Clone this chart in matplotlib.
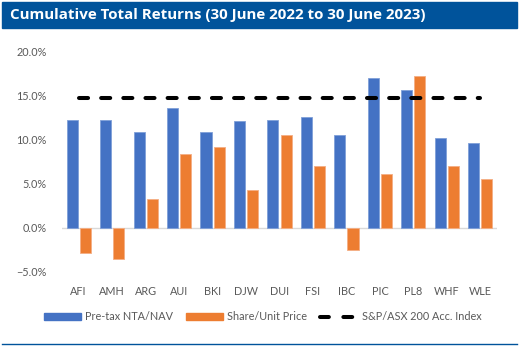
import matplotlib.pyplot as plt
import numpy as np
from matplotlib.patches import Rectangle
from matplotlib.lines import Line2D
from matplotlib.ticker import PercentFormatter

# values (%)
tickers = ['AFI', 'AMH', 'ARG', 'AUI', 'BKI', 'DJW', 'DUI', 'FSI', 'IBC', 'PIC', 'PL8', 'WHF', 'WLE']
nta = [12.3, 12.25, 10.9, 13.6, 10.9, 12.15, 12.2, 12.6, 10.5, 17.0, 15.6, 10.2, 9.6]
share = [-2.8, -3.5, 3.3, 8.4, 9.2, 4.3, 10.5, 7.0, -2.45, 6.15, 17.25, 7.0, 5.5]
index_ret = [14.8] * len(tickers)

title = 'Cumulative Total Returns (30 June 2022 to 30 June 2023)'
blue = '#4472C4'
orange = '#ED7D31'
navy = '#00539B'
grey = '#595959'

plt.rcParams['font.family'] = ['Lato', 'DejaVu Sans']

fig = plt.figure(figsize=(5.2, 3.48), dpi=100)
ax = fig.add_axes([0.119, 0.2184, 0.837, 0.6330])

x = np.arange(len(tickers))
w = 0.33
ax.bar(x - w / 2 - 0.03, nta, width=w, color=blue, edgecolor='#7f9fd8', linewidth=0.6, zorder=2)
ax.bar(x + w / 2 + 0.03, share, width=w, color=orange, edgecolor='#f4ae84', linewidth=0.6, zorder=2)
ax.plot(x, index_ret, color='black', linewidth=2.9, dashes=(2.25, 3.25),
        dash_capstyle='round', zorder=3)

ax.set_xlim(-0.5, len(tickers) - 0.5)
ax.set_ylim(-5, 20)
ax.set_yticks([-5, 0, 5, 10, 15, 20])
ax.yaxis.set_major_formatter(PercentFormatter(decimals=1))
ax.set_xticks(x)
ax.set_xticklabels(tickers)
ax.axhline(0, color='#d9d9d9', linewidth=1, zorder=1)
for s in ax.spines.values():
    s.set_visible(False)
ax.tick_params(axis='both', length=0, labelsize=7.8, colors=grey)
ax.tick_params(axis='x', pad=10)
ax.tick_params(axis='y', pad=11)

# title band and bottom rule
fig.add_artist(Rectangle((2 / 520, 1 - 28 / 348), 515 / 520, 26 / 348,
                         transform=fig.transFigure, color=navy, zorder=0))
fig.text(10 / 520, 1 - 15.5 / 348, title, color='white', fontsize=10.9,
         fontweight='bold', family=['Open Sans', 'DejaVu Sans'], va='center', ha='left')
fig.add_artist(Line2D([2 / 520, 517 / 520], [1 - 344 / 348] * 2, transform=fig.transFigure,
                      color=navy, linewidth=1))

handles = [Rectangle((0, 0), 1, 1, color=blue),
           Rectangle((0, 0), 1, 1, color=orange),
           Line2D([], [], color='black', linewidth=2.9, dashes=(2.2, 3.6), dash_capstyle='round')]
labels = ['Pre-tax NTA/NAV', 'Share/Unit Price', 'S&P/ASX 200 Acc. Index']
leg = fig.legend(handles, labels, loc='center', bbox_to_anchor=(0.505, 1 - 317 / 348),
                 ncol=3, frameon=False, fontsize=7.8, handlelength=3.4, handleheight=0.6,
                 columnspacing=1.2, handletextpad=0.4)
for t in leg.get_texts():
    t.set_color(grey)

fig.savefig('out.png', dpi=100)
